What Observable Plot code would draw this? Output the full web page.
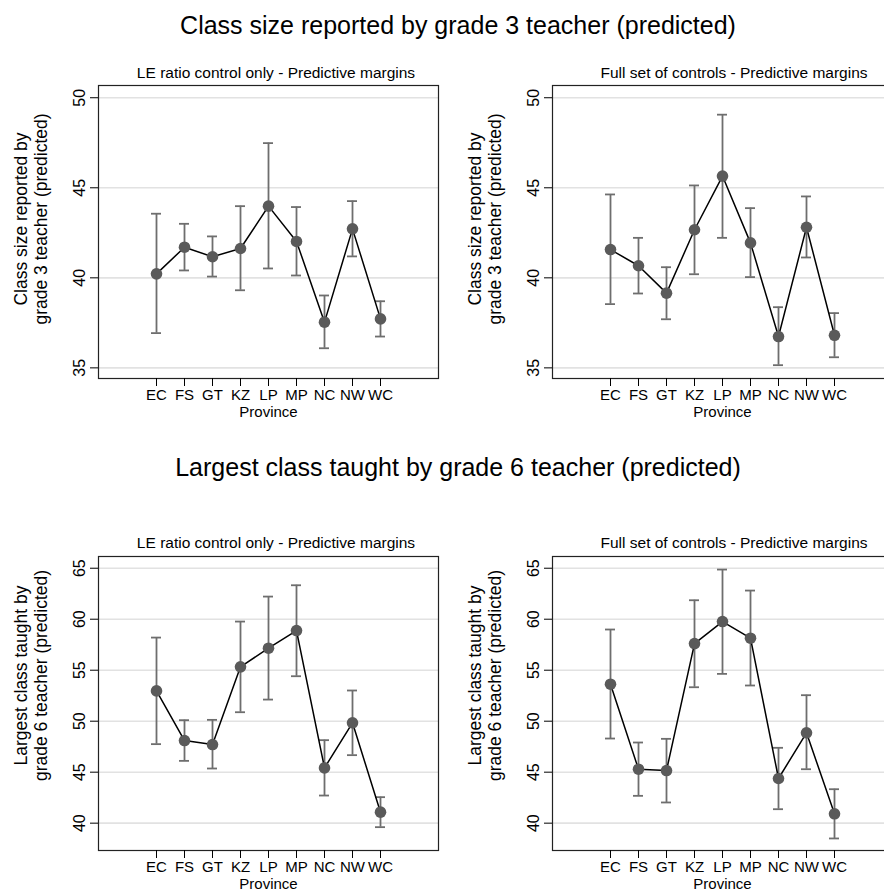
<!DOCTYPE html>
<html><head><meta charset="utf-8">
<script src="https://cdn.jsdelivr.net/npm/d3@7"></script>
<script src="https://cdn.jsdelivr.net/npm/@observablehq/plot@0.6"></script>
<style>
html,body{margin:0;padding:0;background:#fff;overflow:hidden}
#root{position:relative;width:884px;height:891px;overflow:hidden;background:#fff;font-family:"Liberation Sans",Arial,sans-serif;color:#000}
.t{position:absolute;white-space:nowrap;transform:translate(-50%,-50%);line-height:1}
.panel{position:absolute}
</style></head><body><div id="root"></div><script>
const provinces = ["EC","FS","GT","KZ","LP","MP","NC","NW","WC"];

const g3LeMean = [40.22, 41.70, 41.17, 41.63, 43.98, 42.02, 37.54, 42.72, 37.72];
const g3LeLo   = [36.93, 40.41, 40.07, 39.31, 40.52, 40.13, 36.09, 41.19, 36.74];
const g3LeHi   = [43.56, 43.00, 42.30, 43.98, 47.48, 43.93, 39.02, 44.26, 38.70];

const g3FullMean = [41.57, 40.67, 39.15, 42.67, 45.65, 41.94, 36.74, 42.81, 36.81];
const g3FullLo   = [38.54, 39.13, 37.70, 40.20, 42.22, 40.04, 35.15, 41.13, 35.59];
const g3FullHi   = [44.63, 42.22, 40.59, 45.13, 49.06, 43.87, 38.37, 44.52, 38.04];

const g6LeMean = [52.97, 48.10, 47.71, 55.33, 57.16, 58.89, 45.42, 49.84, 41.08];
const g6LeLo   = [47.75, 46.11, 45.36, 50.88, 52.12, 54.41, 42.71, 46.67, 39.61];
const g6LeHi   = [58.20, 50.10, 50.13, 59.77, 62.22, 63.33, 48.14, 53.01, 42.55];

const g6FullMean = [53.63, 45.29, 45.16, 57.61, 59.77, 58.14, 44.38, 48.86, 40.92];
const g6FullLo   = [48.30, 42.68, 42.03, 53.33, 54.64, 53.50, 41.37, 45.29, 38.50];
const g6FullHi   = [58.99, 47.91, 48.27, 61.86, 64.87, 62.81, 47.39, 52.55, 43.33];

const g3Ticks = [35, 40, 45, 50];
const g6Ticks = [40, 45, 50, 55, 60, 65];

const titleTop = "Class size reported by grade 3 teacher (predicted)";
const titleBottom = "Largest class taught by grade 6 teacher (predicted)";
const subLe = "LE ratio control only - Predictive margins";
const subFull = "Full set of controls - Predictive margins";
const yTitleG3 = "Class size reported by\ngrade 3 teacher (predicted)";
const yTitleG6 = "Largest class taught by\ngrade 6 teacher (predicted)";
const xTitle = "Province";

const FONT = '"Liberation Sans", Arial, sans-serif';
const root = document.getElementById("root");

function rows(m, lo, hi) {
  return provinces.map((p, i) => ({p, m: m[i], lo: lo[i], hi: hi[i]}));
}

function addText(txt, x, y, size) {
  const d = document.createElement("div");
  d.className = "t";
  d.textContent = txt;
  d.style.left = x + "px";
  d.style.top = y + "px";
  d.style.fontSize = size + "px";
  root.appendChild(d);
}

function panel({data, yDomain, yTicks, yTitle, yTitleDy, left, top, frameH}) {
  const mL = 98, mR = 4, mT = 2, mB = 42, W = 340;
  const errStyle = {stroke: "#6e6e6e", strokeWidth: 1.8};
  const p = Plot.plot({
    width: mL + W + mR,
    height: mT + frameH + mB,
    marginLeft: mL, marginRight: mR, marginTop: mT, marginBottom: mB,
    style: {fontFamily: FONT, fontSize: "16px", color: "#000", background: "transparent", overflow: "visible"},
    x: {type: "point", domain: provinces, range: [mL + 43.7, mL + 297]},
    y: {domain: yDomain},
    marks: [
      Plot.gridY(yTicks, {stroke: "#e2e2e2", strokeOpacity: 1, strokeWidth: 1.6}),
      Plot.ruleX(data, {x: "p", y1: "lo", y2: "hi", ...errStyle}),
      Plot.ruleY(data, {y: "lo", x1: "p", x2: "p", insetLeft: -5, insetRight: -5, ...errStyle}),
      Plot.ruleY(data, {y: "hi", x1: "p", x2: "p", insetLeft: -5, insetRight: -5, ...errStyle}),
      Plot.line(data, {x: "p", y: "m", stroke: "#000", strokeWidth: 1.5}),
      Plot.dot(data, {x: "p", y: "m", r: 5.8, fill: "#5a5a5a", stroke: null}),
      Plot.frame({stroke: "#222", strokeWidth: 1.2}),
      Plot.axisY(yTicks, {tickSize: 8, tickPadding: 6, tickRotate: -90, fontSize: 16, label: null}),
      Plot.axisX({tickSize: 8, tickPadding: 3, fontSize: 15, label: null}),
      Plot.text([yTitle], {frameAnchor: "left", rotate: -90, dx: -52, dy: yTitleDy, lineAnchor: "bottom", textAnchor: "middle", fontSize: 17.5, lineHeight: 1.1}),
      Plot.text([xTitle], {frameAnchor: "bottom", dy: 34, lineAnchor: "middle", fontSize: 15})
    ]
  });
  p.classList.add("panel");
  p.style.left = (left - mL) + "px";
  p.style.top = (top - mT) + "px";
  root.appendChild(p);
}

addText(titleTop, 458, 25, 25);
addText(titleBottom, 458, 467, 25);
addText(subLe, 276, 73, 15.5);
addText(subFull, 734, 73, 15.5);
addText(subLe, 276, 543, 15.5);
addText(subFull, 734, 543, 15.5);

panel({data: rows(g3LeMean, g3LeLo, g3LeHi), yDomain: [34.41, 50.68], yTicks: g3Ticks, yTitle: yTitleG3, yTitleDy: -13, left: 98, top: 85, frameH: 293});
panel({data: rows(g3FullMean, g3FullLo, g3FullHi), yDomain: [34.41, 50.68], yTicks: g3Ticks, yTitle: yTitleG3, yTitleDy: -13, left: 552, top: 85, frameH: 293});
panel({data: rows(g6LeMean, g6LeLo, g6LeHi), yDomain: [37.32, 66.15], yTicks: g6Ticks, yTitle: yTitleG6, yTitleDy: -28, left: 98, top: 556, frameH: 294});
panel({data: rows(g6FullMean, g6FullLo, g6FullHi), yDomain: [37.32, 66.15], yTicks: g6Ticks, yTitle: yTitleG6, yTitleDy: -28, left: 552, top: 556, frameH: 294});
</script></body></html>
